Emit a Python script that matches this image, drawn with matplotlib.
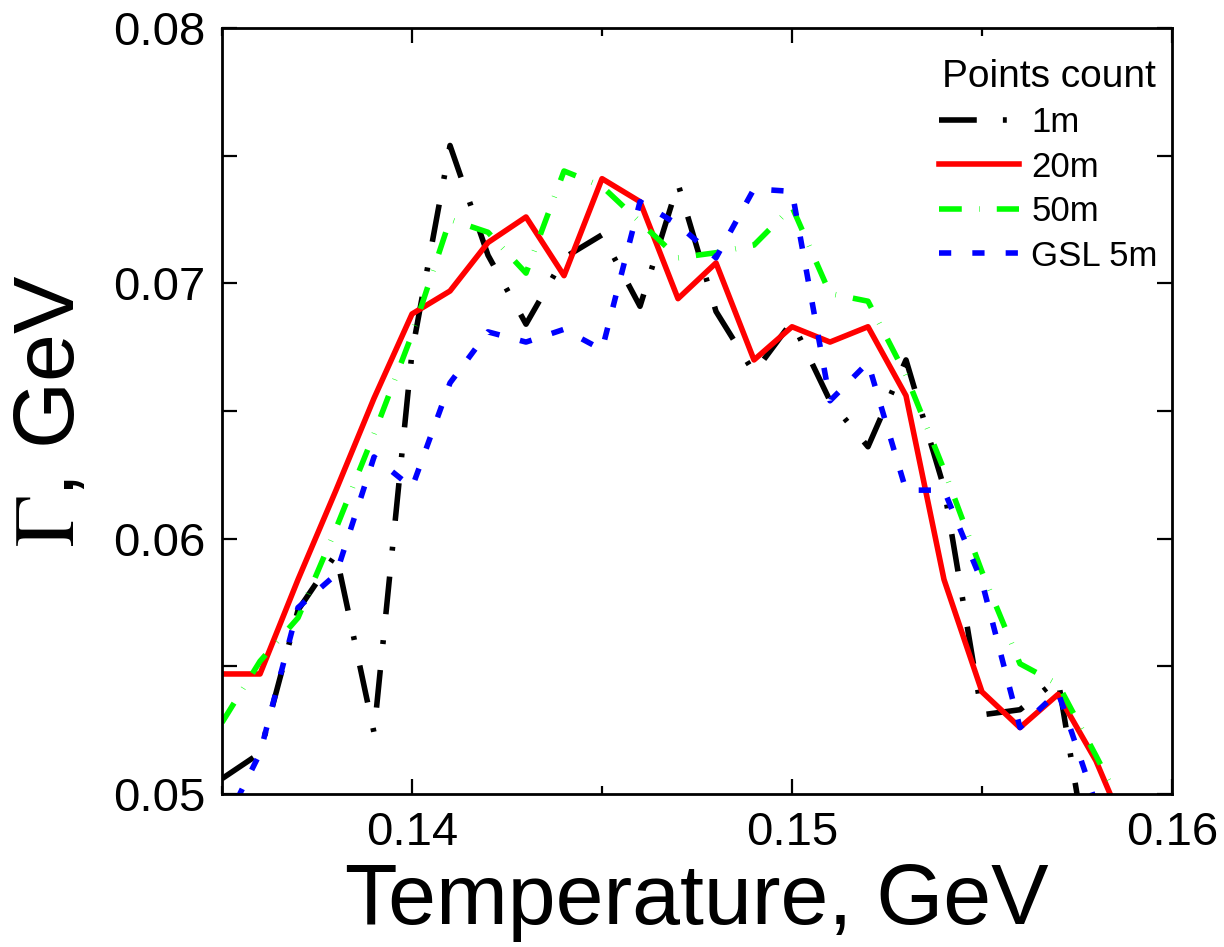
import numpy as np
import matplotlib
matplotlib.use("Agg")
import matplotlib.pyplot as plt
from matplotlib.ticker import MultipleLocator, FormatStrFormatter

plt.rcParams['font.family'] = ['Liberation Sans', 'DejaVu Sans']
plt.rcParams['mathtext.fontset'] = 'stix'

# temperature grid, GeV
T = [0.135, 0.136, 0.137, 0.138, 0.139, 0.140, 0.141, 0.142, 0.143, 0.144,
     0.145, 0.146, 0.147, 0.148, 0.149, 0.150, 0.151, 0.152, 0.153, 0.154,
     0.155, 0.156, 0.157, 0.158, 0.159]

# Gamma, GeV for each points count
g_1m = [0.0506, 0.0516, 0.0572, 0.0594, 0.0524, 0.0673, 0.0754, 0.0711, 0.0684, 0.0710,
        0.0719, 0.0691, 0.0739, 0.0689, 0.0665, 0.0685, 0.0654, 0.0636, 0.0670, 0.0620,
        0.0531, 0.0533, 0.0545, 0.0455, 0.0440]
g_20m = [0.0547, 0.0547, 0.0584, 0.0619, 0.0655, 0.0688, 0.0697, 0.0716, 0.0726, 0.0703,
         0.0741, 0.0732, 0.0694, 0.0708, 0.0670, 0.0683, 0.0677, 0.0683, 0.0656, 0.0584,
         0.0540, 0.0526, 0.0539, 0.0513, 0.0478]
g_50m = [0.0528, 0.0552, 0.0569, 0.0604, 0.0641, 0.0680, 0.0725, 0.0720, 0.0704, 0.0744,
         0.0738, 0.0724, 0.0710, 0.0712, 0.0715, 0.0730, 0.0696, 0.0693, 0.0664, 0.0627,
         0.0587, 0.0551, 0.0543, 0.0515, 0.0486]
g_gsl = [0.0486, 0.0516, 0.0573, 0.0586, 0.0632, 0.0620, 0.0661, 0.0681, 0.0677, 0.0682,
         0.0674, 0.0732, 0.0723, 0.0710, 0.0737, 0.0736, 0.0654, 0.0669, 0.0619, 0.0619,
         0.0583, 0.0526, 0.0540, 0.0496, 0.0470]

labels = ['1m', '20m', '50m', 'GSL 5m']

fig = plt.figure(figsize=(12.24, 9.47), dpi=100)
ax = fig.add_axes([0.1814, 0.1616, 0.7761, 0.8088])

lw = 4.0
ax.plot(T, g_1m, color='black', lw=lw, dashes=(6.8, 4.7, 0.7, 4.7), label=labels[0])
ax.plot(T, g_20m, color='#ff0000', lw=lw, label=labels[1])
ax.plot(T, g_50m, color='#00ff00', lw=lw, dashes=(4.1, 3.1, 0.1, 3.1), label=labels[2])
ax.plot(T, g_gsl, color='#0000ff', lw=lw, dashes=(2.2, 3.8), label=labels[3])

ax.set_xlim(0.135, 0.16)
ax.set_ylim(0.05, 0.08)
ax.xaxis.set_major_locator(MultipleLocator(0.01))
ax.xaxis.set_minor_locator(MultipleLocator(0.005))
ax.yaxis.set_major_locator(MultipleLocator(0.01))
ax.yaxis.set_minor_locator(MultipleLocator(0.005))
ax.xaxis.set_major_formatter(FormatStrFormatter('%.2f'))
ax.yaxis.set_major_formatter(FormatStrFormatter('%.2f'))

ax.tick_params(which='both', direction='in', top=True, right=True, width=1.6)
ax.tick_params(axis='x', which='major', length=11, labelsize=34, pad=12)
ax.tick_params(axis='x', which='minor', length=5.5)
ax.tick_params(axis='y', which='both', length=11, labelsize=34, pad=12)
for s in ax.spines.values():
    s.set_linewidth(2)

ax.set_xlabel('Temperature, GeV', fontsize=62, labelpad=5)
ax.set_ylabel(r'$\Gamma$, GeV', fontsize=62)
ax.yaxis.set_label_coords(-0.137, 0.5)

leg = ax.legend(loc='upper right', bbox_to_anchor=(0.985, 0.96), frameon=False,
                fontsize=25, title='Points count', title_fontsize=28,
                handlelength=2.3, handletextpad=0.35, labelspacing=0.33,
                borderpad=0, borderaxespad=0)

fig.savefig('out.png', dpi=100)
